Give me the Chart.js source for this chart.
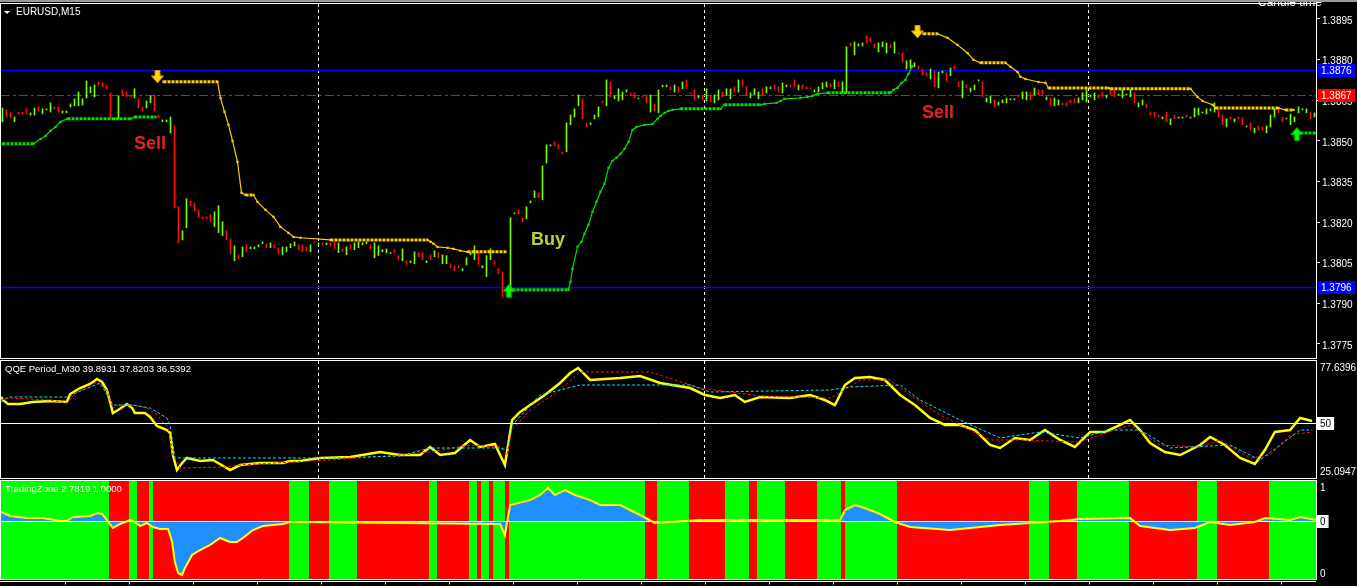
<!DOCTYPE html>
<html>
<head>
<meta charset="utf-8">
<script src="https://cdn.jsdelivr.net/npm/chart.js@4.4.0/dist/chart.umd.min.js"></script>
<style>
html, body { margin: 0; padding: 0; background: #000; overflow: hidden; }
#wrap { position: relative; width: 1357px; height: 586px; background: #000; }
canvas { position: absolute; left: 0; }
</style>
</head>
<body>
<div id="wrap">
  <canvas id="price" width="1357" height="360" style="top:0"></canvas>
  <canvas id="qqe" width="1357" height="120" style="top:360px"></canvas>
  <canvas id="zone" width="1357" height="106" style="top:480px"></canvas>
</div>
<script>
// ---- price panel (EURUSD M15), one bar per index ----
const candleHigh = [
  1.38621,1.38614,1.38603,1.38588,1.38606,1.38606,1.38618,1.38603,1.38621,1.38625,
  1.38618,1.38618,1.38640,1.38625,1.38625,1.38610,1.38610,1.38636,1.38655,1.38680,
  1.38655,1.38721,1.38699,1.38706,1.38717,1.38714,1.38706,1.38677,1.38584,1.38666,
  1.38688,1.38680,1.38669,1.38692,1.38655,1.38625,1.38647,1.38666,1.38669,1.38595,
  1.38577,1.38577,1.38588,1.38555,1.38256,1.38168,1.38286,1.38278,1.38271,1.38245,
  1.38219,1.38219,1.38227,1.38238,1.38260,1.38201,1.38168,1.38138,1.38112,1.38079,
  1.38108,1.38116,1.38108,1.38108,1.38116,1.38127,1.38120,1.38123,1.38116,1.38105,
  1.38108,1.38108,1.38120,1.38127,1.38116,1.38116,1.38108,1.38116,1.38127,1.38123,
  1.38123,1.38123,1.38123,1.38127,1.38123,1.38101,1.38108,1.38116,1.38123,1.38127,
  1.38123,1.38127,1.38116,1.38123,1.38112,1.38098,1.38101,1.38087,1.38098,1.38076,
  1.38101,1.38057,1.38057,1.38090,1.38087,1.38087,1.38057,1.38079,1.38094,1.38087,
  1.38079,1.38076,1.38046,1.38039,1.38039,1.38028,1.38068,1.38087,1.38112,1.38087,
  1.38039,1.38076,1.38101,1.38057,1.38028,1.38016,1.37954,1.38216,1.38234,1.38245,
  1.38216,1.38256,1.38278,1.38315,1.38308,1.38407,1.38485,1.38485,1.38496,1.38485,
  1.38459,1.38566,1.38595,1.38618,1.38669,1.38655,1.38566,1.38566,1.38595,1.38625,
  1.38647,1.38725,1.38717,1.38666,1.38692,1.38680,1.38688,1.38677,1.38677,1.38658,
  1.38666,1.38669,1.38669,1.38636,1.38688,1.38706,1.38706,1.38699,1.38706,1.38699,
  1.38717,1.38725,1.38677,1.38688,1.38666,1.38669,1.38692,1.38669,1.38669,1.38688,
  1.38680,1.38692,1.38692,1.38699,1.38725,1.38725,1.38699,1.38677,1.38692,1.38680,
  1.38692,1.38699,1.38699,1.38706,1.38699,1.38714,1.38706,1.38706,1.38725,1.38706,
  1.38706,1.38699,1.38695,1.38688,1.38699,1.38714,1.38717,1.38710,1.38725,1.38717,
  1.38717,1.38847,1.38861,1.38865,1.38858,1.38861,1.38887,1.38880,1.38858,1.38861,
  1.38865,1.38861,1.38854,1.38865,1.38824,1.38824,1.38795,1.38799,1.38788,1.38776,
  1.38765,1.38751,1.38765,1.38758,1.38754,1.38758,1.38751,1.38769,1.38776,1.38717,
  1.38721,1.38706,1.38695,1.38706,1.38725,1.38717,1.38658,1.38666,1.38651,1.38643,
  1.38651,1.38658,1.38655,1.38655,1.38669,1.38680,1.38680,1.38677,1.38695,1.38688,
  1.38688,1.38662,1.38658,1.38658,1.38651,1.38640,1.38640,1.38651,1.38655,1.38658,
  1.38677,1.38688,1.38669,1.38677,1.38669,1.38680,1.38669,1.38692,1.38688,1.38673,
  1.38688,1.38673,1.38688,1.38677,1.38640,1.38651,1.38636,1.38606,1.38606,1.38595,
  1.38588,1.38606,1.38581,1.38595,1.38588,1.38588,1.38595,1.38588,1.38621,1.38621,
  1.38606,1.38618,1.38618,1.38640,1.38614,1.38595,1.38581,1.38588,1.38581,1.38588,
  1.38584,1.38555,1.38566,1.38547,1.38555,1.38551,1.38555,1.38595,1.38618,1.38618,
  1.38588,1.38584,1.38599,1.38588,1.38625,1.38618,1.38618,1.38606,1.38603
];
const candleLow = [
  1.38570,1.38588,1.38584,1.38570,1.38599,1.38599,1.38599,1.38595,1.38595,1.38610,
  1.38599,1.38614,1.38606,1.38618,1.38606,1.38603,1.38603,1.38625,1.38629,1.38629,
  1.38632,1.38658,1.38677,1.38662,1.38706,1.38699,1.38692,1.38584,1.38577,1.38581,
  1.38669,1.38662,1.38662,1.38658,1.38621,1.38610,1.38621,1.38640,1.38610,1.38584,
  1.38570,1.38570,1.38529,1.38252,1.38123,1.38134,1.38179,1.38260,1.38241,1.38216,
  1.38212,1.38212,1.38201,1.38183,1.38161,1.38150,1.38134,1.38083,1.38057,1.38065,
  1.38072,1.38090,1.38101,1.38101,1.38108,1.38120,1.38105,1.38105,1.38105,1.38083,
  1.38079,1.38090,1.38105,1.38112,1.38098,1.38090,1.38094,1.38090,1.38123,1.38116,
  1.38116,1.38116,1.38112,1.38101,1.38087,1.38090,1.38079,1.38101,1.38098,1.38105,
  1.38116,1.38120,1.38101,1.38068,1.38076,1.38090,1.38087,1.38083,1.38087,1.38061,
  1.38057,1.38042,1.38050,1.38046,1.38072,1.38061,1.38050,1.38061,1.38072,1.38068,
  1.38046,1.38046,1.38031,1.38020,1.38031,1.38020,1.38042,1.38079,1.38061,1.38042,
  1.38031,1.37998,1.38061,1.38042,1.38009,1.37924,1.37946,1.37950,1.38230,1.38230,
  1.38201,1.38212,1.38271,1.38290,1.38290,1.38282,1.38418,1.38481,1.38481,1.38470,
  1.38452,1.38459,1.38559,1.38588,1.38629,1.38581,1.38551,1.38559,1.38581,1.38588,
  1.38640,1.38629,1.38662,1.38655,1.38647,1.38651,1.38680,1.38666,1.38658,1.38655,
  1.38662,1.38640,1.38606,1.38610,1.38603,1.38699,1.38699,1.38688,1.38680,1.38680,
  1.38692,1.38692,1.38673,1.38651,1.38658,1.38651,1.38647,1.38643,1.38640,1.38651,
  1.38662,1.38669,1.38655,1.38680,1.38680,1.38703,1.38669,1.38658,1.38669,1.38655,
  1.38669,1.38677,1.38692,1.38692,1.38680,1.38677,1.38699,1.38699,1.38699,1.38688,
  1.38692,1.38692,1.38692,1.38680,1.38680,1.38692,1.38699,1.38699,1.38692,1.38699,
  1.38677,1.38677,1.38850,1.38817,1.38850,1.38850,1.38861,1.38865,1.38843,1.38828,
  1.38847,1.38824,1.38843,1.38824,1.38821,1.38791,1.38765,1.38769,1.38773,1.38765,
  1.38743,1.38740,1.38728,1.38699,1.38695,1.38751,1.38721,1.38740,1.38765,1.38699,
  1.38658,1.38695,1.38680,1.38688,1.38721,1.38662,1.38643,1.38640,1.38625,1.38632,
  1.38640,1.38640,1.38651,1.38651,1.38662,1.38655,1.38651,1.38651,1.38669,1.38669,
  1.38666,1.38651,1.38632,1.38629,1.38632,1.38632,1.38629,1.38640,1.38640,1.38640,
  1.38651,1.38643,1.38662,1.38651,1.38658,1.38662,1.38658,1.38669,1.38662,1.38669,
  1.38658,1.38669,1.38662,1.38640,1.38625,1.38632,1.38621,1.38595,1.38588,1.38588,
  1.38581,1.38570,1.38559,1.38581,1.38584,1.38584,1.38588,1.38584,1.38588,1.38595,
  1.38603,1.38599,1.38610,1.38606,1.38588,1.38559,1.38551,1.38581,1.38570,1.38581,
  1.38559,1.38551,1.38540,1.38529,1.38540,1.38540,1.38529,1.38551,1.38588,1.38603,
  1.38570,1.38581,1.38559,1.38570,1.38603,1.38614,1.38603,1.38581,1.38588
];
// u = bar closed up, d = bar closed down
const candleDir =
  "udduddduud" + "uuudduuuuu" + "uuuudddduu" + "dddudduudd" + "uuudduuddd" +
  "ddduuuddud" + "uduuuududd" + "uuuudddudu" + "duddududuu" + "uuduuuuudd" +
  "uduuddudud" + "uuddduuuud" + "uuuddduuud" + "duuuduuudd" + "duuuudduuu" +
  "duduuuuddu" + "dduduuudud" + "udddududuu" + "duududduuu" + "duudduuddu" +
  "ddduuuudud" + "uuduuudddu" + "uududduuud" + "dduduududd" + "uduuuduudu" +
  "uuuuduudud" + "duduuddddu" + "uuuudduddu" + "uuuduudddd" + "ududuuduuu" +
  "uuuuddudud" + "dududduuud" + "duuuuuudu";

const priceTicks = [1.3775, 1.3790, 1.3805, 1.3820, 1.3835, 1.3850, 1.3865, 1.3880, 1.3895];
const PRICE_MIN = 1.37698, PRICE_MAX = 1.39005;

// trailing stop (bar index, price)
const greenStop1X = [0, 7.75, 9.5, 10.75, 12, 13.25, 14.5, 16.25, 32, 33, 38.25];
const greenStop1Y = [1.38489,1.38489,1.38507,1.38518,1.38537,1.38551,1.38570,1.38581,1.38581,1.38588,1.38588];
const yellowStop1X = [40.25,53.75,54.5,55.5,56.5,57.5,58.75,59.75,60.75,62.75,63.75,65.75,67.75,69.5,71.5,72.75,74.5,82,106.25,107,107.75,108.75,111.25,112.75,114.5,116.25,125.75];
const yellowStop1Y = [1.38718,1.38718,1.38658,1.38607,1.38559,1.38500,1.38422,1.38308,1.38300,1.38300,1.38274,1.38245,1.38219,1.38182,1.38160,1.38145,1.38142,1.38134,1.38134,1.38127,1.38120,1.38108,1.38105,1.38101,1.38094,1.38090,1.38090];
const greenStop2X = [127.5,141.5,142,142.5,143.75,144.75,145.5,146.5,147.5,148.5,149.5,150.5,151.5,152.5,153.5,154.5,155.5,156.5,157.5,158.5,160.5,162.5,163.75,164.5,165.5,166.5,167.5,169.5,179.5,180.5,189.5,190.5,193.5,194.5,195.5,199.5,201.25,202.5,203.75,206.25,222,222.75,223.75,224.75,225.75,226.5,227.5];
const greenStop2Y = [1.37950,1.37950,1.37979,1.38027,1.38109,1.38127,1.38157,1.38190,1.38238,1.38275,1.38312,1.38341,1.38400,1.38426,1.38437,1.38452,1.38470,1.38496,1.38540,1.38551,1.38559,1.38562,1.38581,1.38592,1.38603,1.38610,1.38614,1.38618,1.38618,1.38633,1.38633,1.38636,1.38640,1.38647,1.38655,1.38658,1.38662,1.38666,1.38673,1.38677,1.38677,1.38688,1.38695,1.38714,1.38725,1.38747,1.38776];
const yellowStop2X = [230.25,233.75,236.25,238.75,241.25,242.75,244.5,250.75,252,253.75,254.5,255.75,259,260.75,261.5,276.5,277,297,298.75,300,302.5,303.25,319,320.75,322.75];
const yellowStop2Y = [1.38895,1.38895,1.38880,1.38854,1.38824,1.38799,1.38788,1.38788,1.38773,1.38754,1.38736,1.38728,1.38717,1.38714,1.38695,1.38695,1.38692,1.38692,1.38662,1.38647,1.38633,1.38621,1.38621,1.38614,1.38614];
const greenStop3X = [324.5, 328.5];
const greenStop3Y = [1.38529, 1.38529];

const sellX = [38.75, 228.75], sellY = [1.38736, 1.38902];
const buyX = [126.6, 323.6], buyY = [1.37946, 1.38525];
const noteText = ["Sell", "Buy", "Sell"];
const noteX = [36.9, 136.4, 233.9];
const noteY = [1.38489, 1.38134, 1.38603];

const askLine = 1.3876, bidLine = 1.3867, lowLine = 1.3796;
const dayBreaks = [78.75, 175.25, 271.25];

// ---- QQE panel ----
const qqeMin = 25.0947, qqeMax = 77.6396;
const qqeX = [-0.375,0.1,1.4,4.4,7.6,11.9,16.1,16.9,19.4,21.9,23.6,24.9,26.1,26.9,27.6,28.9,31.1,32.4,33.1,35.6,36.9,38.6,41.1,41.9,42.6,43.6,44.9,46.1,49.4,52.6,56.9,59.4,64.4,70.1,71.9,74.4,79.4,86.9,94.4,99.4,104.4,106.9,109.4,113.1,116.9,119.4,123.1,125.6,127.4,129.4,131.9,135.6,139.4,141.9,143.9,146.9,154.4,159.4,164.4,171.9,175.6,179.4,183.1,185.6,189.4,196.9,201.9,205.6,208.1,210.6,213.1,216.9,220.6,224.4,228.1,231.9,235.6,239.4,243.1,246.9,249.4,253.1,256.9,260.6,264.4,268.1,271.9,275.6,279.4,281.9,284.4,286.9,290.6,294.4,299.4,301.9,305.6,309.4,313.1,315.6,318.1,321.9,324.4,327.4];
const qqeRsi = [61.47,60.12,58.33,58.33,59.23,59.67,59.23,62.82,65.51,67.31,69.56,68.21,64.62,59.23,54.29,55.63,58.33,56.53,54.29,54.29,52.49,48.45,46.65,45.30,35.42,28.69,31.83,34.08,32.73,33.18,28.69,30.93,31.83,31.83,32.73,32.73,34.08,34.53,36.77,35.42,35.42,39.02,35.42,36.32,42.16,39.02,40.36,30.93,51.14,54.74,57.88,62.37,67.76,72.25,74.50,69.11,70.01,70.90,67.76,65.51,62.37,61.02,62.37,59.23,61.47,61.02,62.37,60.12,57.88,66.86,70.01,70.45,69.11,62.37,57.88,52.04,48.90,48.90,46.65,39.91,38.57,43.06,42.16,46.65,42.16,39.02,45.75,45.75,48.90,51.14,46.65,40.81,36.77,35.42,39.91,43.51,39.91,34.08,31.38,37.67,45.75,46.65,52.04,50.69];
const qqeSlowX = [-0.375,1.9,11.9,16.1,18.6,23.6,26.1,27.6,29.4,32.6,36.1,38.6,41.4,42.6,44.4,56.1,59.4,72.6,81.9,99.4,106.9,116.9,124.4,126.1,127.4,131.9,139.4,144.4,161.9,174.4,189.4,206.9,210.6,214.4,221.9,226.9,234.4,246.9,254.4,269.4,274.4,281.9,289.4,299.4,304.4,311.9,316.9,321.9,327.4];
const qqeSlow = [60.12,61.02,60.12,58.78,63.72,68.21,64.62,56.53,57.88,57.88,56.53,53.39,47.55,35.42,29.59,30.04,30.93,32.28,33.18,35.42,36.77,39.91,39.02,35.42,46.65,55.63,64.62,72.70,72.70,65.51,61.92,61.02,64.62,69.11,69.11,62.37,53.39,42.16,42.16,41.26,44.41,48.90,39.91,39.02,42.16,34.08,35.42,44.41,45.75];
const qqeTrailX = [-0.375,1.4,16.1,20.1,24.4,27.6,32.6,36.9,41.1,41.9,43.1,81.9,99.4,106.9,124.4,126.1,127.4,134.4,144.4,171.9,176.9,206.9,211.9,224.4,229.4,239.4,249.4,259.4,269.4,276.9,284.4,291.9,306.9,314.4,319.4,324.4,327.4];
const qqeTrail = [59.23,61.47,61.47,64.62,67.76,57.88,57.88,56.53,52.04,48.90,34.08,34.08,34.97,38.57,38.57,37.67,48.90,62.37,66.86,66.86,63.72,64.62,65.96,66.86,60.12,51.14,43.06,45.75,43.06,46.65,46.65,38.57,39.91,33.18,39.91,46.65,46.65];

// ---- TradingZone panel ----
const tzMin = -1.45, tzMax = 1;
const tzX = [-0.375,1.9,6.1,10.1,14.4,16.1,17.6,21.9,23.6,24.9,26.1,27.6,29.4,31.9,33.1,34.4,36.1,37.6,39.4,41.4,42.4,43.1,43.9,44.9,45.6,47.4,49.4,51.9,54.4,56.9,58.6,60.1,62.6,65.1,67.6,70.1,71.9,74.4,99.4,124.4,125.6,126.9,131.9,134.4,136.4,138.1,140.6,143.1,146.9,149.4,154.4,159.4,163.1,174.4,209.4,210.6,213.1,215.6,219.4,223.1,226.9,236.9,244.4,249.4,256.9,264.4,269.4,281.9,284.4,291.9,298.1,301.9,306.9,313.1,315.6,321.9,324.4,328.4];
const tzValue = [0.225,0.125,0.075,0.075,0,0,0.10,0.125,0.20,0.175,0.025,-0.175,-0.075,0.025,-0.025,-0.125,-0.05,-0.15,-0.20,-0.20,-0.525,-1.025,-1.30,-1.35,-1.175,-0.85,-0.725,-0.60,-0.425,-0.525,-0.525,-0.425,-0.225,-0.125,-0.10,-0.075,-0.025,-0.025,-0.05,-0.075,-0.35,0.40,0.525,0.65,0.825,0.65,0.775,0.65,0.525,0.40,0.40,0.15,-0.05,0.025,0.025,0.275,0.40,0.325,0.175,-0.025,-0.15,-0.225,-0.15,-0.10,-0.05,0,0.05,0.075,-0.125,-0.225,-0.175,-0.025,-0.10,-0.025,0.075,0.025,0.10,0.025];
// first bar of each zone, G = buy zone, R = sell zone
const zoneStart = [0,27,32,34,37,38,72,77,82,89,107,109,117,119,120,122,123,126,127,161,164,172,181,187,189,196,204,210,211,224,257,262,269,282,299,304,317];
const zoneSide = "GRGRGRGRGRGRGRGRGRGRGRGRGRGRGRGRGRGRG";

const X_MIN = -0.375, X_MAX = 328.375;
const FONT = "'Liberation Sans', Arial, sans-serif";

function pts(xs, ys) { return xs.map((x, k) => ({ x: x, y: ys[k] })); }

function arrowIcon(fill, edge, down) {
  const c = document.createElement("canvas");
  c.width = 13; c.height = 14;
  const g = c.getContext("2d");
  g.beginPath();
  if (down) {
    g.moveTo(4, 0.5); g.lineTo(9, 0.5); g.lineTo(9, 6); g.lineTo(12.5, 6);
    g.lineTo(6.5, 13); g.lineTo(0.5, 6); g.lineTo(4, 6);
  } else {
    g.moveTo(6.5, 0.5); g.lineTo(12.5, 7.5); g.lineTo(9, 7.5); g.lineTo(9, 13.5);
    g.lineTo(4, 13.5); g.lineTo(4, 7.5); g.lineTo(0.5, 7.5);
  }
  g.closePath();
  g.fillStyle = fill; g.fill();
  g.strokeStyle = edge; g.lineWidth = 1; g.stroke();
  return c;
}

function xAxis() {
  return { type: "linear", min: X_MIN, max: X_MAX, display: false, offset: false };
}
function fixWidth(s) {
  s.width = 41;
  s.paddingTop = 0; s.paddingBottom = 0;
}
function sideAxis(min, max) {
  return {
    position: "right", min: min, max: max, afterFit: fixWidth,
    grid: { display: false }, border: { display: false }, ticks: { display: false }
  };
}

const frame = {
  id: "frame",
  afterDraw(c) {
    const a = c.chartArea, g = c.ctx;
    g.save();
    g.strokeStyle = "#ffffff"; g.lineWidth = 1;
    g.strokeRect(Math.round(a.left) - 0.5, Math.round(a.top) - 0.5,
      Math.round(a.right - a.left) + 1, Math.round(a.bottom - a.top) + 1);
    g.restore();
  }
};

function drawBreaks(c) {
  const g = c.ctx, a = c.chartArea, xs = c.scales.x;
  g.save();
  g.strokeStyle = "#ffffff"; g.lineWidth = 1; g.setLineDash([3, 3]);
  dayBreaks.forEach(b => {
    const px = Math.round(xs.getPixelForValue(b)) + 0.5;
    g.beginPath(); g.moveTo(px, a.top); g.lineTo(px, a.bottom); g.stroke();
  });
  g.restore();
}

function hLine(c, v, color, dash, w) {
  const g = c.ctx, a = c.chartArea;
  const py = Math.round(c.scales.y.getPixelForValue(v)) + 0.5;
  g.save();
  g.strokeStyle = color; g.lineWidth = w; g.setLineDash(dash);
  g.beginPath(); g.moveTo(a.left, py); g.lineTo(a.right, py); g.stroke();
  g.restore();
}

function tag(g, x, y, text, bg, fg, w) {
  g.save();
  g.font = "10px " + FONT;
  const bw = w || g.measureText(text).width + 6;
  g.fillStyle = bg; g.fillRect(x, Math.round(y) - 6, bw, 13);
  g.fillStyle = fg; g.textBaseline = "middle"; g.textAlign = "left";
  g.fillText(text, x + 3, Math.round(y) + 1);
  g.restore();
}

function sideText(g, x, y, text) {
  g.save();
  g.font = "10px " + FONT; g.fillStyle = "#ffffff";
  g.textBaseline = "middle"; g.textAlign = "left";
  g.fillText(text, x, y);
  g.restore();
}

function title(g, text, x, y) {
  g.save();
  g.font = "9.5px " + FONT; g.fillStyle = "#ffffff";
  g.textBaseline = "middle"; g.fillText(text, x, y);
  g.restore();
}

const priceDecor = {
  id: "priceDecor",
  beforeDatasetsDraw(c) {
    drawBreaks(c);
    hLine(c, askLine, "#0000ff", [], 1.5);
    hLine(c, lowLine, "#0000ff", [], 1.5);
    hLine(c, bidLine, "#e01010", [9, 3, 3, 3], 1);
  },
  afterDatasetsDraw(c) {
    const g = c.ctx, xs = c.scales.x, ys = c.scales.y;
    g.save();
    g.font = "bold 18px " + FONT;
    g.textAlign = "center"; g.textBaseline = "middle";
    noteText.forEach((t, k) => {
      g.fillStyle = t === "Buy" ? "#b8d42e" : "#e8202a";
      g.fillText(t, xs.getPixelForValue(noteX[k]), ys.getPixelForValue(noteY[k]));
    });
    g.restore();
  },
  afterDraw(c) {
    const g = c.ctx, ys = c.scales.y;
    tag(g, 1318, ys.getPixelForValue(askLine), askLine.toFixed(4), "#0000ff", "#ffffff", 37);
    tag(g, 1318, ys.getPixelForValue(bidLine), bidLine.toFixed(4), "#ff0000", "#ffffff", 37);
    tag(g, 1318, ys.getPixelForValue(lowLine), lowLine.toFixed(4), "#0000ff", "#ffffff", 37);
    // symbol caption
    g.save();
    g.fillStyle = "#ffffff";
    g.beginPath(); g.moveTo(4, 11); g.lineTo(10, 11); g.lineTo(7, 14); g.closePath(); g.fill();
    g.font = "10px " + FONT; g.textBaseline = "middle";
    g.fillText("EURUSD,M15", 16, 12.5);
    g.font = "12px " + FONT;
    g.textBaseline = "alphabetic";
    g.fillText("Candle time", 1258, 6);
    g.fillStyle = "#9a9a9a"; g.fillRect(0, 0, 1357, 2);
    g.restore();
  }
};

function stopLine(xs, ys, color) {
  return {
    type: "line", data: pts(xs, ys), borderColor: color, backgroundColor: color,
    borderWidth: 1.2, tension: 0, pointRadius: 1.6, pointStyle: "rect",
    pointBorderWidth: 0, pointBackgroundColor: color,
    segment: {
      borderWidth: s => s.p0.parsed.y === s.p1.parsed.y ? 3 : 1.2,
      borderDash: s => s.p0.parsed.y === s.p1.parsed.y ? [3, 1] : []
    },
    order: 1
  };
}

new Chart(document.getElementById("price"), {
  type: "bar",
  data: {
    datasets: [
      {
        type: "bar",
        data: candleHigh.map((h, i) => ({ x: i, y: [candleLow[i], h] })),
        backgroundColor: candleHigh.map((h, i) => candleDir[i] === "d" ? "#ff1010" : "#7cfc00"),
        barThickness: 1, grouped: false, borderWidth: 0, order: 3
      },
      stopLine(greenStop1X, greenStop1Y, "#00e000"),
      stopLine(yellowStop1X, yellowStop1Y, "#ffcc00"),
      stopLine(greenStop2X, greenStop2Y, "#00e000"),
      stopLine(yellowStop2X, yellowStop2Y, "#ffcc00"),
      stopLine(greenStop3X, greenStop3Y, "#00e000"),
      {
        type: "line", data: pts(sellX, sellY), showLine: false,
        pointStyle: arrowIcon("#ffd700", "#c89a00", true), pointRadius: 7, order: 0
      },
      {
        type: "line", data: pts(buyX, buyY), showLine: false,
        pointStyle: arrowIcon("#00ff00", "#00a000", false), pointRadius: 7, order: 0
      }
    ]
  },
  options: {
    responsive: false, animation: false, devicePixelRatio: 1, events: [],
    layout: { autoPadding: false, padding: { left: 1, top: 4, right: 0, bottom: 2 } },
    plugins: { legend: { display: false }, tooltip: { enabled: false } },
    scales: {
      x: xAxis(),
      y: {
        position: "right", min: PRICE_MIN, max: PRICE_MAX,
        afterFit: fixWidth,
        afterBuildTicks(s) { s.ticks = priceTicks.map(v => ({ value: v })); },
        ticks: {
          color: "#ffffff", font: { family: FONT, size: 10 }, padding: 2,
          labelOffset: 2, autoSkip: false, callback: v => Number(v).toFixed(4)
        },
        grid: { drawOnChartArea: false, color: "#ffffff", tickLength: 4 },
        border: { display: false }
      }
    }
  },
  plugins: [frame, priceDecor]
});

// ---- QQE ----
const qqeDecor = {
  id: "qqeDecor",
  beforeDatasetsDraw(c) {
    drawBreaks(c);
    hLine(c, 50, "#ffffff", [], 1);
  },
  afterDraw(c) {
    const g = c.ctx, ys = c.scales.y;
    title(g, "QQE Period_M30 39.8931 37.8203 36.5392", 5, 9);
    sideText(g, 1320, 8, qqeMax.toFixed(4));
    sideText(g, 1320, 112, qqeMin.toFixed(4));
    tag(g, 1317, ys.getPixelForValue(50), "50", "#ffffff", "#000000");
  }
};

new Chart(document.getElementById("qqe"), {
  type: "line",
  data: {
    datasets: [
      { data: pts(qqeTrailX, qqeTrail), borderColor: "#00e5ff", borderWidth: 1, borderDash: [3, 2], pointRadius: 0, tension: 0 },
      { data: pts(qqeSlowX, qqeSlow), borderColor: "#ff1010", borderWidth: 1, borderDash: [3, 2], pointRadius: 0, tension: 0 },
      { data: pts(qqeX, qqeRsi), borderColor: "#ffff00", borderWidth: 2.5, pointRadius: 0, tension: 0 }
    ]
  },
  options: {
    responsive: false, animation: false, devicePixelRatio: 1, events: [],
    layout: { autoPadding: false, padding: { left: 1, top: 1, right: 0, bottom: 2 } },
    plugins: { legend: { display: false }, tooltip: { enabled: false } },
    scales: { x: xAxis(), y: sideAxis(qqeMin, qqeMax) }
  },
  plugins: [frame, qqeDecor]
});

// ---- TradingZone ----
const zoneDecor = {
  id: "zoneDecor",
  beforeDatasetsDraw(c) {
    const g = c.ctx, a = c.chartArea, xs = c.scales.x;
    g.save();
    zoneStart.forEach((s, k) => {
      const e = k + 1 < zoneStart.length ? zoneStart[k + 1] : X_MAX + 0.5;
      const x0 = Math.max(a.left, Math.round(xs.getPixelForValue(s - 0.5)));
      const x1 = Math.min(a.right, Math.round(xs.getPixelForValue(e - 0.5)));
      g.fillStyle = zoneSide[k] === "G" ? "#00ff00" : "#ff0000";
      g.fillRect(x0, a.top, x1 - x0, a.bottom - a.top);
    });
    g.restore();
  },
  afterDatasetsDraw(c) {
    hLine(c, 0, "#ffffff", [], 1);
  },
  afterDraw(c) {
    const g = c.ctx, a = c.chartArea, xs = c.scales.x, ys = c.scales.y;
    title(g, "TradingZone 2.7819 1.0000", 5, 9);
    sideText(g, 1320, 8, "1");
    sideText(g, 1320, 94, "0");
    tag(g, 1317, ys.getPixelForValue(0), "0", "#ffffff", "#000000");
    g.save();
    g.strokeStyle = "#ffffff"; g.lineWidth = 1;
    const by = Math.round(a.bottom) + 2.5;
    g.beginPath(); g.moveTo(0, by); g.lineTo(a.right, by); g.stroke();
    for (let b = 15.5; b < X_MAX; b += 16) {
      const px = Math.round(xs.getPixelForValue(b)) + 0.5;
      g.beginPath(); g.moveTo(px, by); g.lineTo(px, by + 3); g.stroke();
    }
    g.restore();
  }
};

new Chart(document.getElementById("zone"), {
  type: "line",
  data: {
    datasets: [
      {
        data: pts(tzX, tzValue), borderColor: "#ffff00", borderWidth: 2,
        pointRadius: 0, tension: 0,
        fill: { target: { value: 0 } }, backgroundColor: "#1e90ff"
      }
    ]
  },
  options: {
    responsive: false, animation: false, devicePixelRatio: 1, events: [],
    layout: { autoPadding: false, padding: { left: 1, top: 1, right: 0, bottom: 7 } },
    plugins: { legend: { display: false }, tooltip: { enabled: false } },
    scales: { x: xAxis(), y: sideAxis(tzMin, tzMax) }
  },
  plugins: [frame, zoneDecor]
});
</script>
</body>
</html>
